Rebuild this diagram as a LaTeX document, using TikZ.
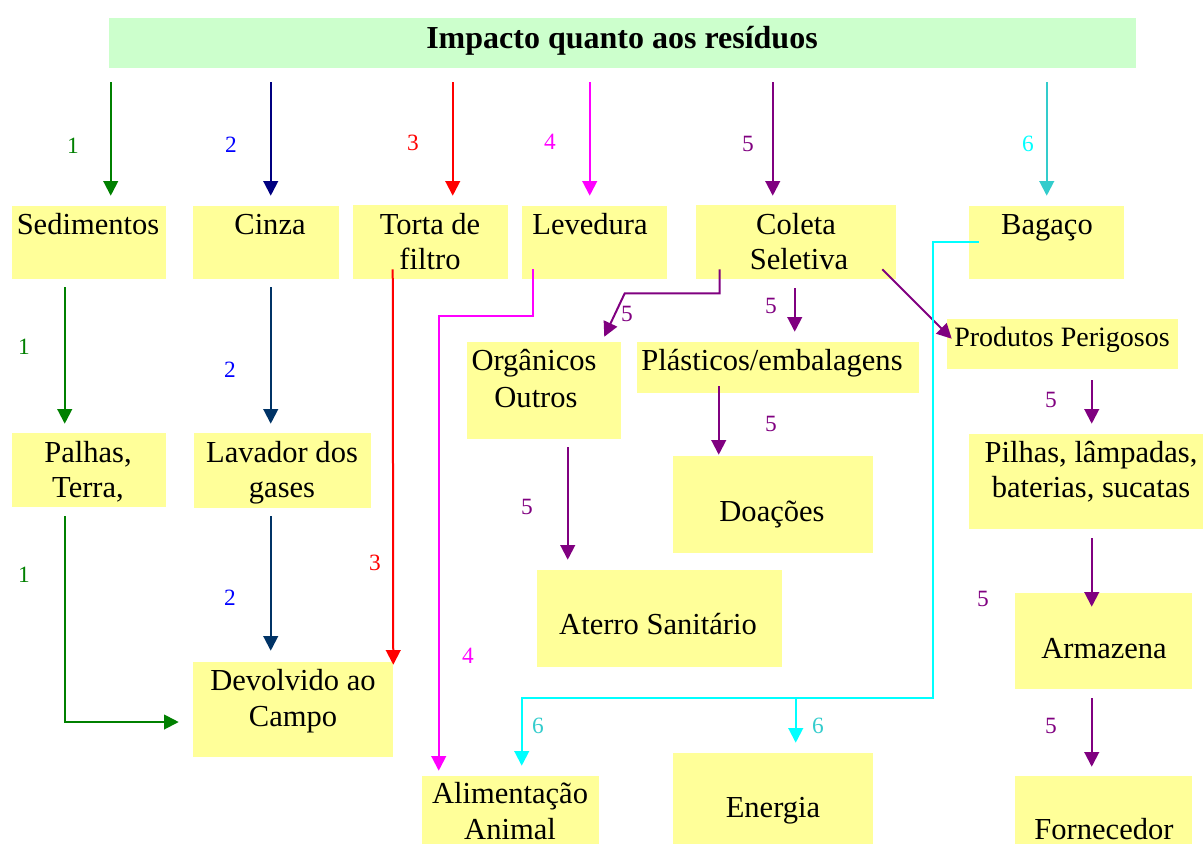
\documentclass[tikz,border=0pt]{standalone}
\usepackage{fontspec}
\setmainfont{Liberation Serif}
\usetikzlibrary{arrows.meta,calc,fit}
\definecolor{boxy}{HTML}{FFFF99}
\definecolor{titleg}{HTML}{CCFFCC}
\definecolor{cgreen}{HTML}{008000}
\definecolor{cnavy}{HTML}{000080}
\definecolor{cdblue}{HTML}{003366}
\definecolor{cblue}{HTML}{0000FF}
\definecolor{cred}{HTML}{FF0000}
\definecolor{cmag}{HTML}{FF00FF}
\definecolor{cpurp}{HTML}{800080}
\definecolor{cteal}{HTML}{33CCCC}
\definecolor{ccyan}{HTML}{00FFFF}
\tikzset{
  box/.style={fill=boxy, draw=none, inner sep=0pt},
  ttl/.style={fill=titleg, draw=none, inner sep=0pt},
  txt/.style={font=\fontsize{22.9}{26}\selectfont, anchor=base, inner sep=0pt},
  txts/.style={font=\fontsize{21}{24}\selectfont, anchor=base, inner sep=0pt},
  num/.style={font=\fontsize{17.5}{20}\selectfont, anchor=base, inner sep=0pt},
  conn/.style={line width=1.5pt, -{Triangle[length=11pt,width=11pt]}},
  plain/.style={line width=1.5pt},
}
\begin{document}
\begin{tikzpicture}[x=0.75pt,y=-0.75pt]
\useasboundingbox (0,0) rectangle (1203,844);
% boxes
\node[ttl, fit={(109,18) (1136,68)}] (title) {};
\node[box, fit={(11.5,206) (166,279)}] (sed) {};
\node[box, fit={(193,206) (339,279)}] (cinza) {};
\node[box, fit={(353,205) (508,279)}] (torta) {};
\node[box, fit={(522,206) (667,279)}] (lev) {};
\node[box, fit={(696,205) (896,279)}] (coleta) {};
\node[box, fit={(969,206) (1124,279)}] (bag) {};
\node[box, fit={(11.5,433) (166,507)}] (palhas) {};
\node[box, fit={(194,433) (371,508)}] (lav) {};
\node[box, fit={(467,342) (621,439)}] (org) {};
\node[box, fit={(637,342) (919,393)}] (plast) {};
\node[box, fit={(947,319) (1178,369)}] (pp) {};
\node[box, fit={(969,434) (1203,529)}] (pilhas) {};
\node[box, fit={(673,456) (873,553)}] (doa) {};
\node[box, fit={(537,570) (782,667)}] (aterro) {};
\node[box, fit={(1015,593) (1192,689)}] (arm) {};
\node[box, fit={(193,662) (393,757)}] (devol) {};
\node[box, fit={(422,776) (599,844)}] (alim) {};
\node[box, fit={(673,753) (873,844)}] (energ) {};
\node[box, fit={(1015,776) (1192,844)}] (forn) {};
% texts
\node[anchor=base, inner sep=0pt, font=\fontsize{24}{28}\selectfont\bfseries] (titleT) at (622,48) {Impacto quanto aos resíduos};
\node[txt] (sedT) at (88,234) {Sedimentos};
\node[txt] (cinzaT) at (270,234) {Cinza};
\node[txt] (tortaT1) at (430,234) {Torta de};
\node[txt] (tortaT2) at (430,269) {filtro};
\node[txt] (levT) at (590,234) {Levedura};
\node[txt] (coletaT1) at (796,234) {Coleta};
\node[txt] (coletaT2) at (799,269) {Seletiva};
\node[txt] (bagT) at (1047,234) {Bagaço};
\node[txt] (palhasT1) at (88,462) {Palhas,};
\node[txt] (palhasT2) at (88,497) {Terra,};
\node[txt] (lavT1) at (282,462) {Lavador dos};
\node[txt] (lavT2) at (282,497) {gases};
\node[txt] (orgT1) at (534,370) {Orgânicos};
\node[txt] (orgT2) at (536,407) {Outros};
\node[txt] (plastT) at (772,370) {Plásticos/embalagens};
\node[txts] (ppT) at (1062,346) {Produtos Perigosos};
\node[txt] (pilhasT1) at (1091,462) {Pilhas, lâmpadas,};
\node[txt] (pilhasT2) at (1091,497) {baterias, sucatas};
\node[txt] (doaT) at (772,521) {Doações};
\node[txt] (aterroT) at (658,634) {Aterro Sanitário};
\node[txt] (armT) at (1104,658) {Armazena};
\node[txt] (devolT1) at (293,690) {Devolvido ao};
\node[txt] (devolT2) at (293,726) {Campo};
\node[txt] (alimT1) at (510,803) {Alimentação};
\node[txt] (alimT2) at (510,839) {Animal};
\node[txt] (energT) at (773,817) {Energia};
\node[txt] (fornT) at (1104,839) {Fornecedor};
% top arrows
\draw[conn, cgreen] ($(title.south west)+(2,14)$) -- ($(sed.north west)+(99.5,-10)$);
\draw[conn, cnavy] ($(title.south west)+(162,14)$) -- ($(cinza.north west)+(78,-10)$);
\draw[conn, cred] ($(title.south west)+(344,14)$) -- ($(torta.north west)+(100,-9)$);
\draw[conn, cmag] ($(title.south west)+(481,14)$) -- ($(lev.north west)+(68,-10)$);
\draw[conn, cpurp] ($(title.south west)+(664,14)$) -- ($(coleta.north west)+(77,-9)$);
\draw[conn, cteal] ($(title.south west)+(938,14)$) -- ($(bag.north west)+(78,-10)$);
% column 1
\draw[conn, cgreen] ($(sed.south west)+(53.5,8)$) -- ($(palhas.north west)+(53.5,-9)$);
\draw[conn, cgreen] ($(palhas.south west)+(53.5,9)$) |- ($(devol.west)+(-14,12.5)$);
% column 2
\draw[conn, cdblue] ($(cinza.south west)+(78,8)$) -- ($(lav.north west)+(77,-9)$);
\draw[conn, cdblue] ($(lav.south west)+(77,8)$) -- ($(devol.north west)+(78,-11)$);
% column 3
\draw[conn, cred] ($(torta.south west)+(40,-10)$) -- ($(devol.north east)+(0,3)$);
% column 4
\draw[conn, cmag] ($(lev.south west)+(11,-10)$) -- ++(0,47) -| ($(alim.north west)+(17,-5)$);
% coleta
\draw[conn, cpurp] ($(coleta.south west)+(24,-10)$) -- ++(0,24) -- ++(-95,0) -- ($(org.north east)+(-17,-5)$);
\draw[conn, cpurp] ($(coleta.south west)+(99,9)$) -- ($(plast.north west)+(158,-10)$);
\draw[conn, cpurp] ($(coleta.south east)+(-14,-10)$) -- ($(pp.north west)+(5,20)$);
\draw[conn, cpurp] ($(org.south west)+(101,8)$) -- ($(aterro.north west)+(31,-10)$);
\draw[conn, cpurp] ($(plast.south west)+(82,-7)$) -- ($(doa.north west)+(46,-1)$);
\draw[conn, cpurp] ($(pp.south west)+(145,11)$) -- ($(pilhas.north west)+(123,-10)$);
\draw[conn, cpurp] ($(pilhas.south west)+(123,9)$) -- ($(arm.north west)+(77,14)$);
\draw[conn, cpurp] ($(arm.south west)+(77,9)$) -- ($(forn.north west)+(77,-9)$);
% bagaco
\draw[conn, ccyan] ($(bag.west)+(10,-0.5)$) -- ++(-46,0) -- ++(0,456) -| ($(alim.north west)+(100,-10)$);
\draw[conn, ccyan] ($(energ.north west)+(123,-55)$) -- ($(energ.north west)+(123,-10)$);
% labels
\node[num, cgreen] (n1a) at (73,153) {1};
\node[num, cblue] (n2a) at (231,152) {2};
\node[num, cred] (n3a) at (413,150) {3};
\node[num, cmag] (n4a) at (550,149) {4};
\node[num, cpurp] (n5a) at (748,151) {5};
\node[num, ccyan] (n6a) at (1028,151) {6};
\node[num, cgreen] (n1b) at (24,354) {1};
\node[num, cblue] (n2b) at (230,377) {2};
\node[num, cgreen] (n1c) at (24,582) {1};
\node[num, cblue] (n2c) at (230,605) {2};
\node[num, cred] (n3b) at (375,570) {3};
\node[num, cmag] (n4b) at (468,663) {4};
\node[num, cpurp] (n5b) at (627,321) {5};
\node[num, cpurp] (n5c) at (771,313) {5};
\node[num, cpurp] (n5d) at (771,431) {5};
\node[num, cpurp] (n5e) at (527,514) {5};
\node[num, cpurp] (n5f) at (1051,407) {5};
\node[num, cpurp] (n5g) at (983,606) {5};
\node[num, cpurp] (n5h) at (1051,733) {5};
\node[num, cteal] (n6b) at (538,733) {6};
\node[num, cteal] (n6c) at (818,733) {6};
\end{tikzpicture}
\end{document}
